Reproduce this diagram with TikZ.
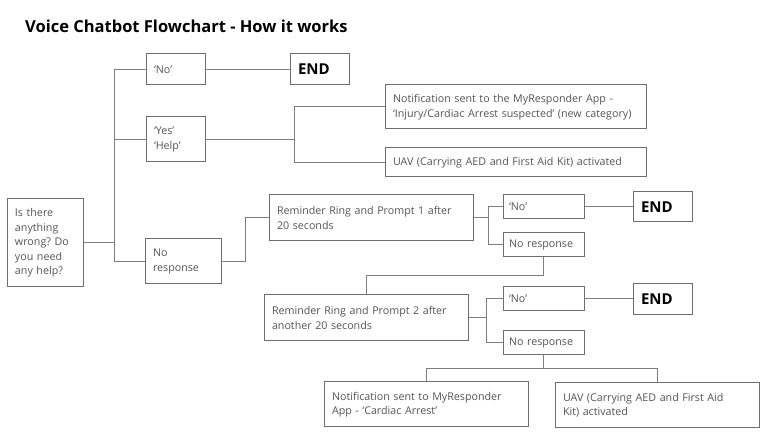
\documentclass[tikz,border=0pt]{standalone}
\usepackage{fontspec}
\setmainfont{Open Sans}
\frenchspacing
\definecolor{boxgray}{HTML}{6E6E6E}
\definecolor{linegray}{HTML}{7E7E7E}
\definecolor{textgray}{HTML}{555555}

\begin{document}
\begin{tikzpicture}[x=1pt,y=-1pt]
        % Define styles
        \tikzset{
            box/.style={rectangle, draw=boxgray, line width=1pt, fill=white, align=left, inner xsep=8pt, inner ysep=1pt, text=textgray, font=\fontsize{10.7}{14.5}\selectfont},
            smallbox/.style={box, inner xsep=6pt, text width=69pt, minimum height=24pt},
            endbox/.style={box, text=black, font=\fontsize{15}{16}\selectfont\bfseries},
            link/.style={draw=linegray, line width=1pt}
        }
        \useasboundingbox (0,0) rectangle (777,438);

        % Title
        \node[anchor=west, inner sep=0pt, font=\fontsize{16.5}{18}\selectfont\bfseries] (title_node) at (25,26) {Voice Chatbot Flowchart - How it works};

        % Nodes
        \node[box, text width=60pt, minimum height=88pt] (q_node) at (45,243) {Is there\\anything\\wrong? Do\\you need\\any help?};
        \node[box, text width=43pt, minimum height=31pt] (no_node_1) at (175.5,69.5) {‘No’};
        \node[endbox, text width=43pt, minimum height=31pt] (end_node_1) at (319.5,69.5) {END};
        \node[box, text width=43pt, minimum height=45pt] (yes_node) at (175.5,139.5) {‘Yes’\\‘Help’};
        \node[box, text width=245pt, minimum height=44pt] (notif_node_1) at (515.5,107) {Notification sent to the MyResponder App -\\‘Injury/Cardiac Arrest suspected’ (new category)};
        \node[box, text width=245pt, minimum height=29pt] (uav_node_1) at (515.5,162.5) {UAV (Carrying AED and First Aid Kit) activated};
        \node[box, text width=60pt, minimum height=45pt] (noresp_node_0) at (183,261.5) {No\\response};

        \node[box, text width=188pt, minimum height=46pt] (remind_node_1) at (371,218) {Reminder Ring and Prompt 1 after\\20 seconds};
        \node[smallbox] (no_node_2) at (543.5,207) {‘No’};
        \node[endbox, text width=43pt, minimum height=30pt] (end_node_2) at (662.5,207) {END};
        \node[smallbox] (noresp_node_1) at (543.5,245) {No response};

        \node[box, text width=188pt, minimum height=46pt] (remind_node_2) at (366,318) {Reminder Ring and Prompt 2 after\\another 20 seconds};
        \node[smallbox] (no_node_3) at (543.5,299) {‘No’};
        \node[endbox, text width=43pt, minimum height=31pt] (end_node_3) at (662.5,299) {END};
        \node[smallbox] (noresp_node_2) at (543.5,343) {No response};

        \node[box, text width=188pt, minimum height=45pt] (notif_node_2) at (426,404.5) {Notification sent to MyResponder\\App - ‘Cardiac Arrest’};
        \node[box, text width=188pt, minimum height=45pt] (uav_node_2) at (657,405.5) {UAV (Carrying AED and First Aid\\Kit) activated};

        % Split points
        \coordinate (split_1) at (114.5,0);
        \coordinate (split_2) at (294.5,0);
        \coordinate (split_3) at (245,0);
        \coordinate (split_4) at (488,0);
        \coordinate (split_5) at (0,276);
        \coordinate (split_6) at (486,0);
        \coordinate (split_7) at (0,368.5);

        % Lines
        \draw[link] (q_node.east) -- (split_1 |- q_node.east);
        \draw[link] (no_node_1.west) -| (split_1 |- noresp_node_0.west) -- (noresp_node_0.west);
        \draw[link] (yes_node.west) -- (split_1 |- yes_node.west);
        \draw[link] (no_node_1) -- (end_node_1);

        \draw[link] (yes_node.east) -- (split_2 |- yes_node.east);
        \draw[link] (notif_node_1.west) -| (split_2 |- uav_node_1.west) -- (uav_node_1.west);

        \draw[link] (noresp_node_0.east) -| (split_3 |- remind_node_1.west) -- (remind_node_1.west);

        \draw[link] (remind_node_1.east) -- (split_4 |- remind_node_1.east);
        \draw[link] (no_node_2.west) -| (split_4 |- noresp_node_1.west) -- (noresp_node_1.west);
        \draw[link] (no_node_2) -- (end_node_2);

        \draw[link] (noresp_node_1.south) -- (noresp_node_1.south |- split_5) -| (remind_node_2.north);

        \draw[link] (remind_node_2.east) -- (split_6 |- remind_node_2.east);
        \draw[link] (no_node_3.west) -| (split_6 |- noresp_node_2.west) -- (noresp_node_2.west);
        \draw[link] (no_node_3) -- (end_node_3);

        \draw[link] (noresp_node_2.south) -- (noresp_node_2.south |- split_7);
        \draw[link] (notif_node_2.north) |- (split_7 -| uav_node_2.north) -- (uav_node_2.north);
    \end{tikzpicture}
\end{document}
